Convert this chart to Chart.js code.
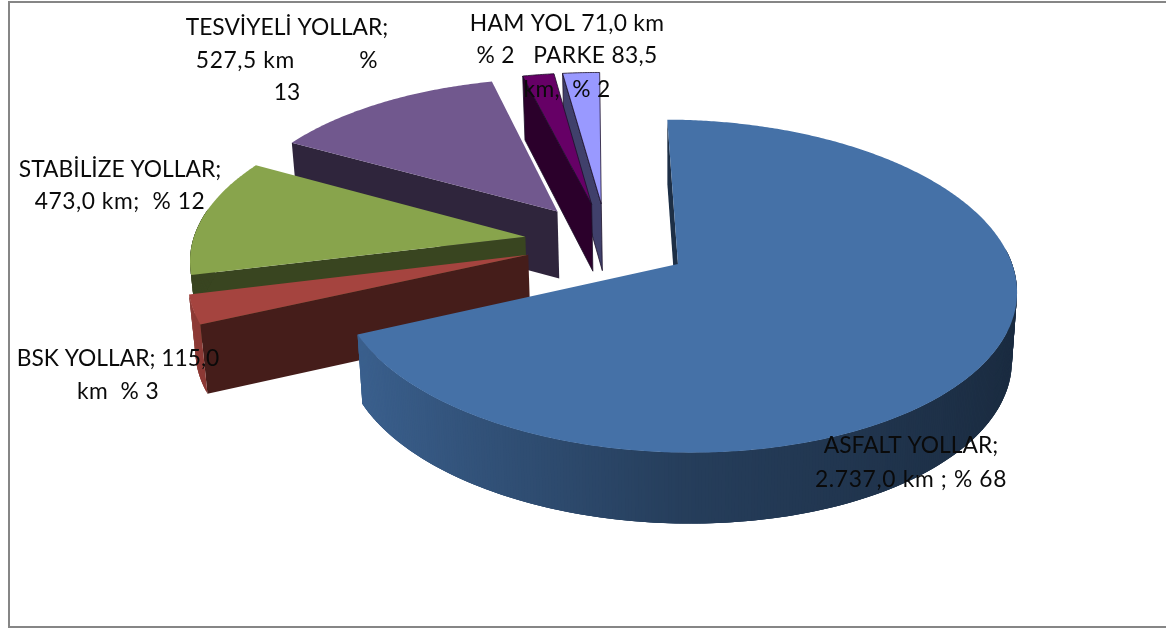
<!DOCTYPE html>
<html>
<head>
<meta charset="utf-8">
<style>
html,body{margin:0;padding:0;background:#fff;overflow:hidden;width:1166px;height:628px}
#frame{position:absolute;left:8px;top:1px;width:1300px;height:623px;border:2px solid #868686}
#wrap{position:absolute;left:0;top:0;width:1166px;height:628px}
</style>
</head>
<body>
<div id="frame"></div>
<div id="wrap"><canvas id="c" width="1166" height="628"></canvas></div>
<script src="https://cdn.jsdelivr.net/npm/chart.js@4/dist/chart.umd.min.js"></script>
<script>
const categories = ["ASFALT YOLLAR","BSK YOLLAR","STABİLİZE YOLLAR","TESVİYELİ YOLLAR","HAM YOL","PARKE"];
const kilometres = [2737.0,115.0,473.0,527.5,71.0,83.5];
const sliceColors = ["#4571a7","#a5443f","#88a44c","#71588e","#660066","#9999ff"];
const outlined = [false,false,false,false,true,true];
const labelLines = [
  ["ASFALT YOLLAR;","2.737,0 km ; % 68"],
  ["BSK YOLLAR; 115,0","km  % 3"],
  ["STABİLİZE YOLLAR;","473,0 km;  % 12"],
  ["TESVİYELİ YOLLAR;","527,5 km          %","13"],
  ["HAM YOL 71,0 km","% 2   PARKE 83,5","km,  % 2"]
];
const labelAnchors = [
  {x:911,y:[453,487],tracking:[0,0.65]},
  {x:118,y:[366,399],tracking:[0,0.4]},
  {x:120,y:[177,209],tracking:[0,0.55]},
  {x:287,y:[35,68,100],tracking:[0,0.6,0]},
  {x:567,y:[31,63,97],tracking:[0.3,0.3,0.3]}
];

// Scene settings: how the flat pie is tilted into the 3D view.
const EXPLODE = 0.25, PERSP = 0.134, U0 = -0.206, V0 = 0.151, ROLL = 6;
const SCALE_X = 337/240.7, SCALE_Y = 164.4/240.7;
const FONT = '22.8px Lato, Carlito, sans-serif';

function rgb(hex,f){
  const n=parseInt(hex.slice(1),16);
  return `rgb(${Math.round((n>>16&255)*f)},${Math.round((n>>8&255)*f)},${Math.round((n&255)*f)})`;
}
function wallShade(deg){
  const d=((deg%360)+360)%360;
  if(d>=254) return 0.42;
  const s=Math.sin(d*Math.PI/180);
  return s<0 ? 0.55+0.33*(-s) : 0.55-0.17*s;
}
function makeProjector(el){
  const rx=el.outerRadius*SCALE_X, ry=el.outerRadius*SCALE_Y;
  const w0=1+PERSP*V0, ox=el.x-rx*U0/w0, oy=el.y+ry*V0/w0;
  return function(p,q,bottom){
    const u=p+U0, v=q+V0, w=1+PERSP*v;
    let X=ox+rx*u/w, Y=oy+(ROLL*u-ry*v)/w;
    if(bottom){ X-=(X-ox)*0.015; Y+=68-3*v; }
    return [X,Y];
  };
}
function fillPoly(ctx,pts,color,edge){
  ctx.beginPath();
  pts.forEach((p,i)=>i?ctx.lineTo(p[0],p[1]):ctx.moveTo(p[0],p[1]));
  ctx.closePath();
  ctx.fillStyle=color; ctx.fill();
  if(edge){ ctx.lineJoin='round'; ctx.strokeStyle=edge; ctx.lineWidth=0.8; ctx.stroke(); }
}
function drawSlice(ctx,el,i){
  const P=makeProjector(el), base=sliceColors[i], edge=outlined[i]?'#1c1028':null;
  const a0=el.startAngle, a1=el.endAngle, mid=(a0+a1)/2;
  const ex=Math.cos(mid)*EXPLODE, ey=-Math.sin(mid)*EXPLODE;
  const at=(a,b)=>P(ex+Math.cos(a),ey-Math.sin(a),b);
  const apex=P(ex,ey,false), apexB=P(ex,ey,true);
  const wall=rgb(base,0.42);
  const clock=a=>a*180/Math.PI+90;   // degrees clockwise from 12 o'clock
  if(Math.cos((clock(a0)-90)*Math.PI/180)<0)
    fillPoly(ctx,[apex,at(a0,false),at(a0,true),apexB],wall,edge);
  if(Math.cos((clock(a1)+90)*Math.PI/180)<0)
    fillPoly(ctx,[apex,at(a1,false),at(a1,true),apexB],wall,edge);
  const step=Math.PI/360;
  for(let a=a0;a<a1;a+=step){
    const b=Math.min(a+step,a1), c=Math.min(a+3*step,a1), m=clock((a+b)/2);
    if(Math.cos(m*Math.PI/180)>0.13) continue;
    fillPoly(ctx,[at(a,false),at(c,false),at(c,true),at(a,true)],rgb(base,wallShade(m)));
  }
  const top=[apex];
  for(let a=a0;a<a1;a+=step) top.push(at(a,false));
  top.push(at(a1,false));
  fillPoly(ctx,top,base,edge);
}
const pie3d={
  id:'pie3d',
  beforeDatasetsDraw(chart){
    const ctx=chart.ctx, arcs=chart.getDatasetMeta(0).data;
    ctx.save();
    for(let i=arcs.length-1;i>=0;i--) drawSlice(ctx,arcs[i],i);
    ctx.restore();
    return false;
  },
  afterDraw(chart){
    const ctx=chart.ctx;
    ctx.save();
    ctx.font=FONT; ctx.fillStyle='#0a0a0a'; ctx.textAlign='center'; ctx.textBaseline='alphabetic';
    labelLines.forEach((lines,i)=>lines.forEach((t,j)=>{
      ctx.letterSpacing=labelAnchors[i].tracking[j]+'px';
      ctx.fillText(t,labelAnchors[i].x,labelAnchors[i].y[j]);
    }));
    ctx.restore();
  }
};
new Chart(document.getElementById('c'),{
  type:'pie',
  data:{labels:categories,datasets:[{data:kilometres,backgroundColor:sliceColors,borderWidth:0,offset:0}]},
  options:{
    responsive:false,animation:false,rotation:-2,
    layout:{padding:{left:366.4,right:318.2,top:2.5,bottom:144.1}},
    plugins:{legend:{display:false},title:{display:false},tooltip:{enabled:false}}
  },
  plugins:[pie3d]
});
</script>
</body>
</html>
